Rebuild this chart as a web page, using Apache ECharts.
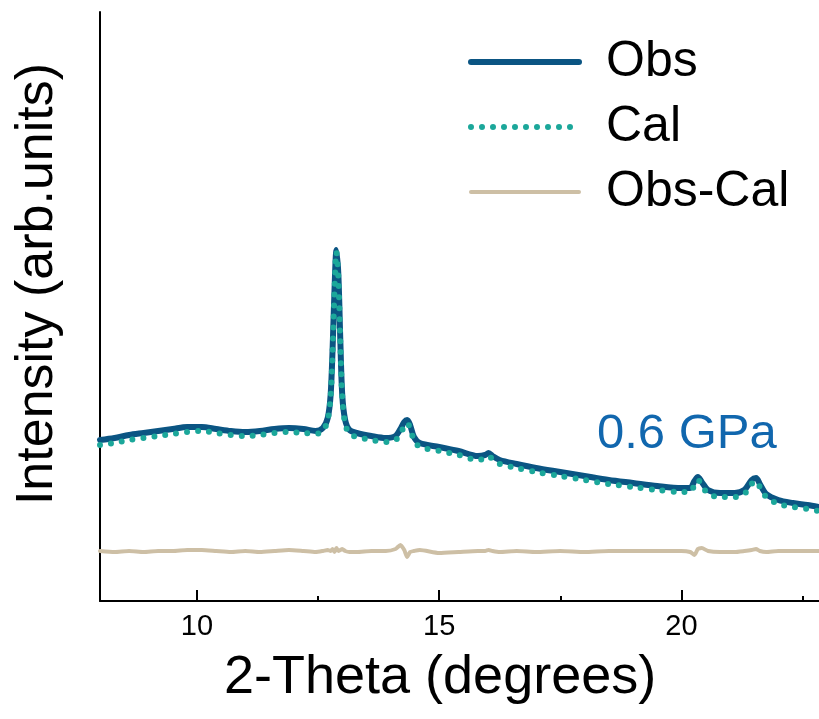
<!DOCTYPE html>
<html>
<head>
<meta charset="utf-8">
<script src="https://cdn.jsdelivr.net/npm/echarts@6/dist/echarts.min.js"></script>
<style>
  html, body { margin: 0; padding: 0; background: #fff; }
  #chart { width: 819px; height: 719px; }
</style>
</head>
<body>
<div id="chart"></div>
<script>
// 2-theta positions (degrees)
const theta = [8.0, 8.3, 8.6, 8.9, 9.2, 9.5, 9.8, 10.1, 10.4, 10.7, 11.0, 11.3, 11.6, 11.9, 12.2, 12.45,
  12.6, 12.7, 12.76, 12.8, 12.84, 12.88, 12.92, 12.96, 13.0, 13.06, 13.15, 13.3, 13.6, 13.9, 14.1, 14.2,
  14.28, 14.34, 14.4, 14.48, 14.6, 15.0, 15.4, 15.8, 15.95, 16.02, 16.1, 16.25, 16.6, 17.0, 17.5, 18.0,
  18.5, 19.0, 19.5, 20.0, 20.18, 20.27, 20.34, 20.42, 20.55, 20.8, 21.1, 21.3, 21.45, 21.54, 21.62, 21.75,
  22.0, 22.3, 22.6, 22.84];

// observed intensity (arb. units)
const obs = [161, 163, 166, 168, 170, 172, 174, 174, 172, 170, 169, 170, 172, 173, 172, 170,
  173, 183, 206, 251, 311, 351, 326, 261, 206, 181, 171, 168, 165, 163, 165, 172,
  179, 181, 176, 164, 158, 154, 150, 145, 146, 148, 145, 141, 137, 133, 129, 125,
  121, 118, 115, 113, 113, 120, 124, 119, 111, 108, 108, 111, 121, 123, 117, 107,
  101, 98, 96, 94];

// calculated profile
const cal = [156, 158, 161, 163, 165, 167, 169, 170, 168, 166, 165, 166, 168, 169, 168, 167,
  170, 181, 204, 249, 309, 349, 323, 259, 204, 177, 167, 164, 161, 159, 161, 167,
  175, 178, 173, 161, 154, 150, 146, 141, 143, 145, 142, 137, 133, 129, 125, 121,
  117, 114, 111, 109, 109, 116, 121, 116, 107, 104, 104, 107, 117, 120, 114, 104,
  97, 94, 92, 90];

// difference curve (offset below the patterns)
const diff = [50, 49, 50, 49, 50, 50, 51, 51, 50, 49, 50, 49, 50, 51, 50, 49,
  50, 51, 50, 52, 49, 53, 50, 51, 52, 50, 49, 49, 50, 50, 52, 56,
  51, 44, 49, 50, 51, 48, 49, 50, 50, 51, 50, 49, 50, 49, 50, 49,
  50, 50, 50, 50, 49, 46, 52, 53, 50, 49, 49, 50, 51, 52, 50, 49,
  50, 50, 50, 50];

const majorTicks = [10, 15, 20];
const minorTicks = [12.5, 17.5, 22.5];

const pair = (ys) => theta.map((t, i) => [t, ys[i]]);

const FONT = "'Liberation Sans', Arial, sans-serif";
const chart = echarts.init(document.getElementById('chart'), null, { renderer: 'canvas' });

chart.setOption({
  animation: false,
  backgroundColor: '#ffffff',
  grid: { left: 100, top: 12, right: 0, bottom: 118, containLabel: false },
  xAxis: [
    {
      type: 'value', min: 8, max: 22.84,
      axisLine: { show: true, onZero: false, lineStyle: { color: '#000', width: 2 } },
      axisTick: { show: true, inside: true, length: 11, lineStyle: { color: '#000', width: 2 }, customValues: majorTicks },
      axisLabel: { show: true, margin: 11, fontSize: 29, color: '#000', fontFamily: FONT, customValues: majorTicks },
      splitLine: { show: false }
    },
    {
      type: 'value', min: 8, max: 22.84, position: 'bottom',
      axisLine: { show: false },
      axisTick: { show: true, inside: true, length: 5, lineStyle: { color: '#000', width: 2 }, customValues: minorTicks },
      axisLabel: { show: false },
      splitLine: { show: false }
    }
  ],
  yAxis: {
    type: 'value', min: 0, max: 589,
    axisLine: { show: true, onZero: false, lineStyle: { color: '#000', width: 2 } },
    axisTick: { show: false },
    axisLabel: { show: false },
    splitLine: { show: false }
  },
  legend: {
    orient: 'vertical', left: 468, top: 37, padding: 0,
    itemWidth: 108, itemHeight: 14, itemGap: 15,
    itemStyle: { opacity: 0 },
    lineStyle: { width: 'inherit', type: 'inherit', cap: 'inherit' },
    textStyle: { fontSize: 50, lineHeight: 50, color: '#000', fontFamily: FONT, padding: [0, 0, 0, 22] },
    data: ['Obs', 'Cal', 'Obs-Cal']
  },
  series: [
    {
      name: 'Obs', type: 'line', data: pair(obs), symbol: 'none', smooth: 0.3,
      lineStyle: { color: '#0b5583', width: 6, cap: 'round', join: 'round' },
      itemStyle: { color: '#0b5583' }, z: 2
    },
    {
      name: 'Cal', type: 'line', data: pair(cal), symbol: 'none', smooth: 0.3,
      lineStyle: { color: '#1ba79a', width: 6, type: [0, 11], cap: 'round' },
      itemStyle: { color: '#1ba79a' }, z: 3
    },
    {
      name: 'Obs-Cal', type: 'line', data: pair(diff), symbol: 'none', smooth: 0.2,
      lineStyle: { color: '#cdbfa5', width: 4, cap: 'round', join: 'round' },
      itemStyle: { color: '#cdbfa5' }, z: 2
    }
  ],
  graphic: [
    {
      type: 'text', left: 224, top: 651,
      style: { text: '2-Theta (degrees)', font: "54px " + FONT, fill: '#000' }
    },
    {
      type: 'text', x: 12, y: 284, rotation: Math.PI / 2,
      style: { text: 'Intensity (arb.units)', font: "52px " + FONT, fill: '#000', align: 'center', verticalAlign: 'top' }
    },
    {
      type: 'text', left: 597, top: 410,
      style: { text: '0.6 GPa', font: "49px " + FONT, fill: '#1167ae' }
    }
  ]
});
</script>
</body>
</html>
